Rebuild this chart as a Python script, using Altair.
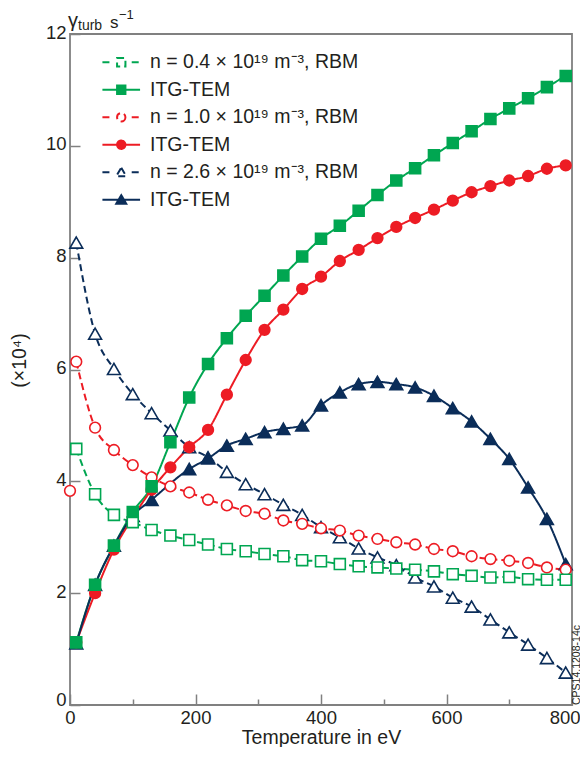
import altair as alt
import pandas as pd

# ---------------- data ----------------
T = [10, 40, 70, 100, 130, 160, 190, 220, 250, 280, 310, 340, 370, 400,
     430, 460, 490, 520, 550, 580, 610, 640, 670, 700, 730, 760, 790]

g_rbm = [4.58, 3.77, 3.40, 3.27, 3.13, 3.03, 2.95, 2.87, 2.79, 2.75, 2.70, 2.66, 2.59, 2.57,
         2.52, 2.48, 2.46, 2.44, 2.42, 2.39, 2.34, 2.31, 2.28, 2.29, 2.25, 2.24, 2.24]
g_itg = [1.12, 2.15, 2.85, 3.45, 3.91, 4.70, 5.50, 6.10, 6.56, 6.96, 7.32, 7.68, 8.02, 8.34,
         8.57, 8.84, 9.12, 9.38, 9.60, 9.83, 10.05, 10.26, 10.48, 10.67, 10.85, 11.05, 11.25]
r_rbm = [6.14, 4.96, 4.56, 4.29, 4.07, 3.91, 3.80, 3.67, 3.57, 3.47, 3.42, 3.30, 3.24, 3.16,
         3.12, 3.03, 2.97, 2.91, 2.87, 2.79, 2.75, 2.66, 2.61, 2.58, 2.54, 2.46, 2.42]
r_itg = [1.12, 2.00, 2.78, 3.35, 3.85, 4.25, 4.61, 4.92, 5.55, 6.17, 6.71, 7.07, 7.44, 7.66,
         7.94, 8.14, 8.35, 8.55, 8.71, 8.86, 9.02, 9.17, 9.28, 9.38, 9.46, 9.59, 9.65]
b_rbm = [8.27, 6.64, 6.01, 5.56, 5.22, 4.91, 4.61, 4.43, 4.17, 3.95, 3.77, 3.58, 3.40, 3.18,
         3.00, 2.80, 2.64, 2.50, 2.28, 2.12, 1.92, 1.76, 1.53, 1.30, 1.08, 0.84, 0.58]
b_itg = [1.10, 2.15, 2.85, 3.38, 3.67, None, 4.22, 4.41, 4.64, 4.76, 4.88, 4.94, 5.00, 5.36,
         5.59, 5.74, 5.78, 5.74, 5.68, 5.53, 5.31, 5.07, 4.76, 4.40, 3.89, 3.33, 2.52]

# lone open red circle sitting on the y axis
r_rbm_extra_T = [0]
r_rbm_extra = [3.83]

series_ids = ["g_rbm", "g_itg", "r_rbm", "r_itg", "b_rbm", "b_itg"]
series_labels = ["n = 0.4 × 10¹⁹ m⁻³, RBM", "ITG-TEM",
                 "n = 1.0 × 10¹⁹ m⁻³, RBM", "ITG-TEM",
                 "n = 2.6 × 10¹⁹ m⁻³, RBM", "ITG-TEM"]
series_values = [g_rbm, g_itg, r_rbm, r_itg, b_rbm, b_itg]
markers = ["square", "square", "circle", "circle", "triangle-up", "triangle-up"]

x_major = [0, 200, 400, 600, 800]
x_minor = [100, 300, 500, 700]
y_ticks = [0, 2, 4, 6, 8, 10, 12]

# ---------------- styles ----------------
GREEN = "#00a651"
RED = "#ed1c24"
NAVY = "#0b2d59"
AX = "#808080"
TEXT = "#231f20"
FONT = "Liberation Sans"
W, H = 502, 671

stroke_range = [GREEN, GREEN, RED, RED, NAVY, NAVY]
fill_range = ["white", GREEN, "white", RED, "white", NAVY]
dash_range = [[7, 4], [1, 0], [7, 4], [1, 0], [7, 4], [1, 0]]

LINE = "M-4.5,0L4.5,0"
DASH = "M-4.5,0L-2.1,0M2.5,0L4.3,0"
SQ = "M-1,-1L1,-1L1,1L-1,1Z"
CI = "M1,0A1,1,0,1,1,-1,0A1,1,0,1,1,1,0Z"
TR = "M0,-1.1L1.2,0.95L-1.2,0.95Z"
shape_paths = [DASH + SQ, LINE + SQ, DASH + CI, LINE + CI, DASH + TR, LINE + TR]

# ---------------- tables ----------------
rows = []
for sid, vals, mk in zip(series_ids, series_values, markers):
    for t, v in zip(T, vals):
        if v is not None:
            rows.append({"T": t, "g": v, "series": sid, "marker": mk})
line_df = pd.DataFrame(rows)
pt_rows = list(rows)
for t, v in zip(r_rbm_extra_T, r_rbm_extra):
    pt_rows.append({"T": t, "g": v, "series": "r_rbm", "marker": "circle"})
pt_df = pd.DataFrame(pt_rows)

labels_js = "[" + ",".join("'" + s + "'" for s in series_labels) + "]"
ids_js = "[" + ",".join("'" + s + "'" for s in series_ids) + "]"
label_expr = f"{labels_js}[indexof({ids_js}, datum.value)]"

x_scale = alt.Scale(domain=[0, 800], nice=False)
X_main = alt.X("T:Q", scale=x_scale,
               axis=alt.Axis(values=x_major, orient="bottom", title="Temperature in eV",
                             tickSize=11, offset=-11, domain=False, labelFlush=False,
                             labelAlign={"condition": {"test": "datum.value === 800", "value": "right"},
                                         "value": "center"},
                             labelOffset={"condition": {"test": "datum.value === 800", "value": 8},
                                          "value": 0},
                             labelPadding=3, titlePadding=2))
X_minor = alt.X("T:Q", scale=x_scale,
                axis=alt.Axis(values=x_minor, orient="bottom", title=None, labels=False,
                              tickSize=6, offset=-6, domain=False))
X_plain = alt.X("T:Q", scale=x_scale, axis=None)
Y = alt.Y("g:Q", scale=alt.Scale(domain=[0, 12], nice=False),
          axis=alt.Axis(values=y_ticks, title="(×10⁴)", tickSize=10, offset=-10,
                        domain=False, labelPadding=4,
                        labelOffset={"condition": {"test": "datum.value === 0", "value": -6},
                                     "value": -2},
                        titlePadding=16, titleY=326))

stroke_scale = alt.Scale(domain=series_ids, range=stroke_range)
fill_scale = alt.Scale(domain=series_ids, range=fill_range)


def leg():
    return alt.Legend(title=None, orient="none", legendX=32, legendY=18.5, padding=0,
                      rowPadding=6.5, symbolOffset=9.5, labelOffset=19, symbolSize=70,
                      symbolStrokeWidth=2, symbolOpacity=1, symbolFillColor="white",
                      labelLimit=400, labelFont=FONT, labelFontSize=19.5, labelColor=TEXT,
                      labelExpr=label_expr, direction="vertical")


# invisible layer that only carries the legend (first, so its legend settings win)
legend_layer = alt.Chart(pt_df).mark_point(filled=True, opacity=0).encode(
    x=X_minor, y=Y,
    stroke=alt.Stroke("series:N", scale=stroke_scale, legend=leg()),
    fill=alt.Fill("series:N", scale=fill_scale, legend=leg()),
    shape=alt.Shape("series:N", scale=alt.Scale(domain=series_ids, range=shape_paths), legend=leg()),
)

lines = alt.Chart(line_df).mark_line(interpolate="monotone", strokeWidth=2).encode(
    x=X_main, y=Y,
    stroke=alt.Stroke("series:N", scale=stroke_scale, legend=None),
    strokeDash=alt.StrokeDash("series:N", scale=alt.Scale(domain=series_ids, range=dash_range), legend=None),
)


def pts(shape, size):
    return alt.Chart(pt_df).transform_filter(alt.datum.marker == shape).mark_point(
        shape=shape, filled=True, size=size, strokeWidth=1.6, opacity=1
    ).encode(
        x=X_plain, y=Y,
        stroke=alt.Stroke("series:N", scale=stroke_scale, legend=None),
        fill=alt.Fill("series:N", scale=fill_scale, legend=None),
    )


def note(text, x, y, size, **kw):
    return alt.Chart(alt.Data(values=[{}])).mark_text(
        text=text, font=FONT, fontSize=size, color=TEXT, align="left", baseline="alphabetic", **kw
    ).encode(x=alt.value(x), y=alt.value(y))


chart = alt.layer(
    legend_layer,
    lines,
    pts("triangle-up", 165),
    pts("circle", 115),
    pts("square", 120),
    note("γ", -2, -7, 20),
    note("turb", 8, -4, 14),
    note("s", 40, -6, 17),
    note("−1", 49, -15, 13),
    note("CPS14.1208-14c", 509.5, H, 10.5, angle=270),
).resolve_axis(
    x="independent"
).properties(
    width=W, height=H,
    autosize=alt.AutoSizeParams(type="none"),
    padding={"left": 62, "top": 26, "right": 8, "bottom": 42},
).configure_view(
    stroke=AX, strokeWidth=1.8
).configure_axis(
    tickColor=AX, tickWidth=1.5,
    labelFont=FONT, labelFontSize=18.5, labelColor=TEXT,
    titleFont=FONT, titleFontSize=19.5, titleColor=TEXT, titleFontWeight="normal",
    grid=False,
)

chart.save("out.html", embed_options={"renderer": "svg", "actions": False})
